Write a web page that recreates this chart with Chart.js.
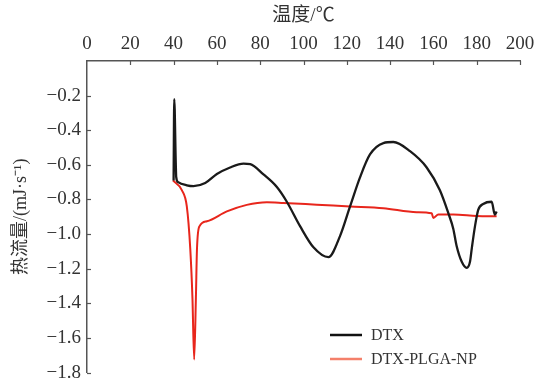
<!DOCTYPE html>
<html>
<head>
<meta charset="utf-8">
<script src="https://cdn.jsdelivr.net/npm/chart.js@4/dist/chart.umd.min.js"></script>
<style>
  html, body { margin: 0; padding: 0; background: #fff; }
  #wrap { width: 536px; height: 390px; }
</style>
</head>
<body>
<div id="wrap"><canvas id="chart" width="536" height="390"></canvas></div>
<script>
// Data (temperature in C, heat flow in mJ/s)
const seriesNames = ['DTX', 'DTX-PLGA-NP'];

const dtxTemp = [40.0, 40.3, 41.0, 41.2, 42.1, 46.1, 49.2, 54.6, 60.0, 66.1, 72.3, 75.4, 81.5, 87.7, 92.3, 98.4,
  104.6, 111.5, 116.9, 121.5, 126.1, 130.7, 136.9, 141.5, 149.2, 156.9, 163.0, 166.9, 169.2, 170.7, 173.1,
  175.4, 176.9, 177.7, 179.2, 180.7, 183.0, 186.9, 188.4, 189.2];
const dtxHeat = [-0.69, -0.22, -0.59, -0.67, -0.70, -0.718, -0.723, -0.705, -0.653, -0.615, -0.593, -0.596, -0.655,
  -0.728, -0.813, -0.954, -1.076, -1.133, -1.01, -0.84, -0.672, -0.54, -0.474, -0.468, -0.521, -0.615, -0.747,
  -0.879, -0.97, -1.067, -1.16, -1.195, -1.16, -1.085, -0.955, -0.86, -0.826, -0.813, -0.888, -0.869];

const npTemp = [39.7, 43.8, 46.1, 47.7, 48.7, 49.5, 50.3, 50.8, 52.0, 55.4, 64.6, 73.8, 83.1, 90.7, 106.1, 121.5,
  136.9, 152.3, 159.2, 160.0, 162.3, 169.2, 180.0, 189.2];
const npHeat = [-0.69, -0.746, -0.84, -1.085, -1.367, -1.725, -1.367, -1.085, -0.954, -0.926, -0.869, -0.831,
  -0.816, -0.82, -0.83, -0.84, -0.85, -0.873, -0.88, -0.907, -0.886, -0.886, -0.895, -0.897];

const xTicks = [0, 20, 40, 60, 80, 100, 120, 140, 160, 180, 200];

const serif = "'Liberation Serif', 'Times New Roman', 'Noto Sans CJK SC', serif";
const axisColor = '#555';
const textColor = '#333';

function toPoints(xs, ys) {
  return xs.map((x, i) => ({ x: x, y: ys[i] }));
}

// Short ticks pointing into the plot, plus a legend inside the plot area
const insideTicks = {
  id: 'insideTicks',
  afterDraw(chart) {
    const { ctx, chartArea, scales } = chart;
    ctx.save();
    ctx.strokeStyle = axisColor;
    ctx.lineWidth = 1.2;
    scales.x.ticks.forEach((t) => {
      if (t.value === 0) return;
      const px = Math.round(scales.x.getPixelForValue(t.value)) + 0.5;
      ctx.beginPath();
      ctx.moveTo(px, chartArea.top);
      ctx.lineTo(px, chartArea.top + 4);
      ctx.stroke();
    });
    scales.y.ticks.forEach((t) => {
      if (t.value === 0) return;
      const py = Math.round(scales.y.getPixelForValue(t.value)) + 0.5;
      ctx.beginPath();
      ctx.moveTo(chartArea.left, py);
      ctx.lineTo(chartArea.left + 4, py);
      ctx.stroke();
    });

    // legend
    const legendColors = ['#111', '#f4806a'];
    ctx.font = '16px ' + serif;
    ctx.textBaseline = 'middle';
    ctx.fillStyle = textColor;
    chart.data.datasets.forEach((ds, i) => {
      const y = 335 + i * 24;
      ctx.strokeStyle = legendColors[i];
      ctx.lineWidth = 2.5;
      ctx.beginPath();
      ctx.moveTo(330, y);
      ctx.lineTo(362, y);
      ctx.stroke();
      ctx.fillText(ds.label, 371, y + 1);
    });
    ctx.restore();
  }
};

new Chart(document.getElementById('chart'), {
  type: 'line',
  data: {
    datasets: [
      {
        label: seriesNames[0],
        data: toPoints(dtxTemp, dtxHeat),
        borderColor: '#1a1a1a',
        borderWidth: 2.3,
        pointRadius: 0,
        cubicInterpolationMode: 'monotone'
      },
      {
        label: seriesNames[1],
        data: toPoints(npTemp, npHeat),
        borderColor: '#e8261c',
        borderWidth: 2,
        pointRadius: 0,
        cubicInterpolationMode: 'monotone'
      }
    ]
  },
  options: {
    responsive: false,
    animation: false,
    devicePixelRatio: 1,
    layout: { padding: { left: 0, right: 0, top: 0, bottom: 10 } },
    plugins: {
      legend: { display: false },
      tooltip: { enabled: false }
    },
    scales: {
      x: {
        type: 'linear',
        position: 'top',
        min: 0,
        max: 200,
        afterBuildTicks: (scale) => { scale.ticks = xTicks.map((v) => ({ value: v })); },
        afterFit: (scale) => {
          scale.height = 61;
          scale.paddingLeft = 0;
          scale.paddingRight = 16;
        },
        grid: { display: false, drawTicks: false },
        border: { display: true, color: axisColor, width: 1.5 },
        ticks: {
          color: textColor,
          padding: 6,
          font: { family: serif, size: 19 }
        },
        title: {
          display: true,
          text: '温度/℃',
          color: textColor,
          padding: { top: 5, bottom: 0 },
          font: { family: serif, size: 19 }
        }
      },
      y: {
        type: 'linear',
        min: -1.8,
        max: 0,
        afterFit: (scale) => { scale.width = 87; },
        grid: { display: false, drawTicks: false },
        border: { display: true, color: axisColor, width: 1.5 },
        ticks: {
          stepSize: 0.2,
          color: textColor,
          padding: 6,
          font: { family: serif, size: 19 },
          callback: (v) => (Math.abs(v) < 1e-9 ? '' : '\u2212' + Math.abs(v).toFixed(1))
        },
        title: {
          display: true,
          text: '热流量/(mJ·s⁻¹)',
          color: textColor,
          padding: { top: 10, bottom: 0 },
          font: { family: serif, size: 18 }
        }
      }
    }
  },
  plugins: [insideTicks]
});
</script>
</body>
</html>
